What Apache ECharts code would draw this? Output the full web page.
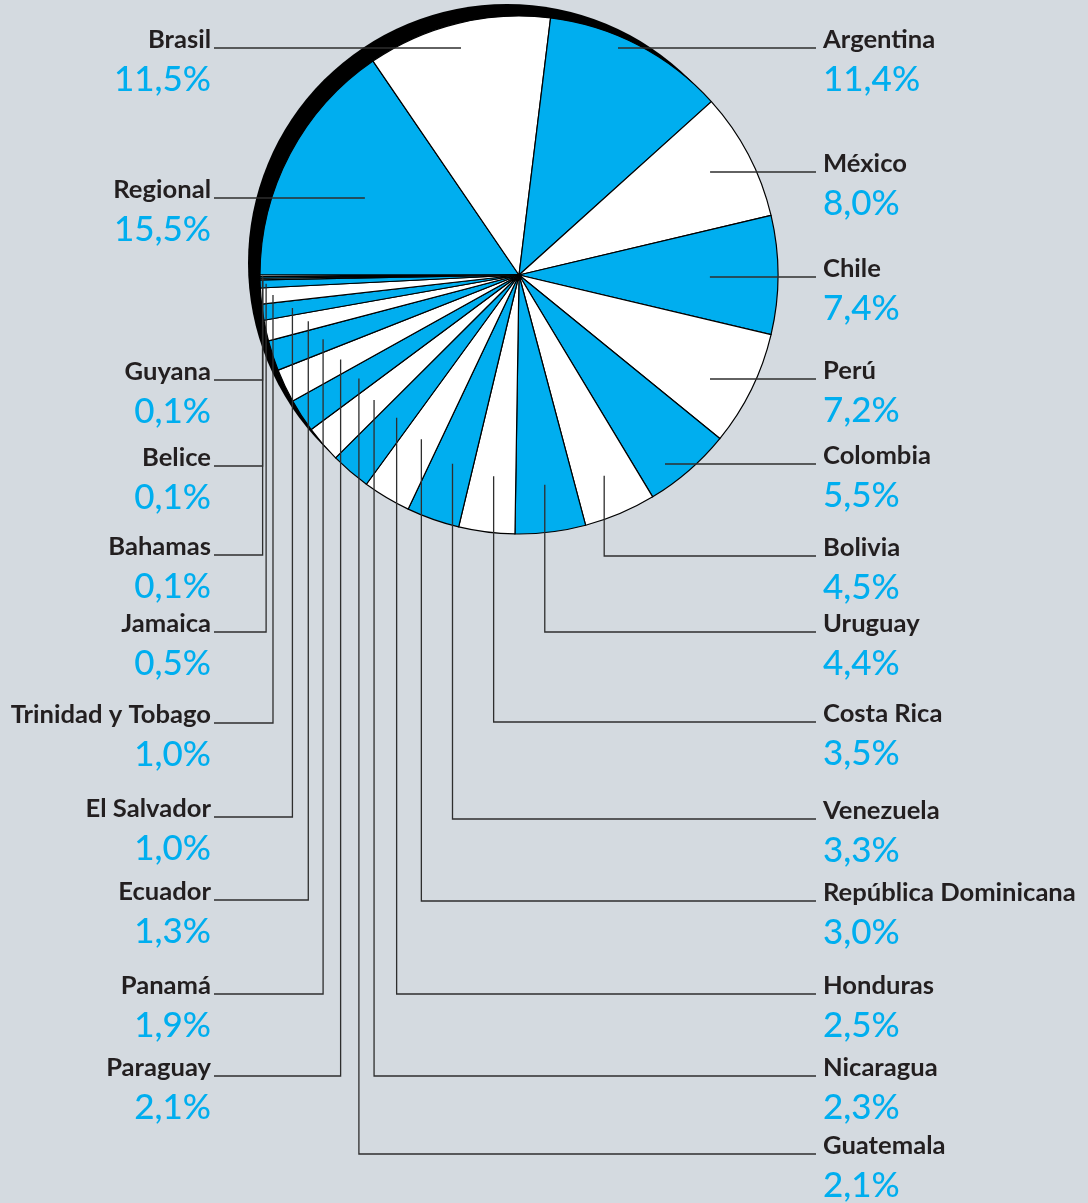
<!DOCTYPE html>
<html>
<head>
<meta charset="utf-8">
<script src="https://cdn.jsdelivr.net/npm/echarts@6/dist/echarts.min.js"></script>
<style>
  html, body { margin: 0; padding: 0; background: #d4dae0; }
  #chart { width: 1088px; height: 1203px; }
</style>
</head>
<body>
<div id="chart"></div>
<script>
// Shares by country, in clockwise order starting at 9 o'clock
const countries = [
  'Regional', 'Brasil', 'Argentina', 'México', 'Chile', 'Perú', 'Colombia',
  'Bolivia', 'Uruguay', 'Costa Rica', 'Venezuela', 'República Dominicana',
  'Honduras', 'Nicaragua', 'Guatemala', 'Paraguay', 'Panamá', 'Ecuador',
  'El Salvador', 'Trinidad y Tobago', 'Jamaica', 'Bahamas', 'Belice', 'Guyana'
];
const shares = [
  15.5, 11.5, 11.4, 8.0, 7.4, 7.2, 5.5,
  4.5, 4.4, 3.5, 3.3, 3.0,
  2.5, 2.3, 2.1, 2.1, 1.9, 1.3,
  1.0, 1.0, 0.5, 0.1, 0.1, 0.1
];

// ---- layout ----
const CX = 519, CY = 275, R = 259;
const SHADOW_DX = -12, SHADOW_DY = -12;
const BLUE = '#00aeef', WHITE = '#ffffff', INK = '#231f20', LINE = '#2e2e2e';

// which side each label sits on
const labelSide = [
  'L', 'L', 'R', 'R', 'R', 'R', 'R',
  'R', 'R', 'R', 'R', 'R',
  'R', 'R', 'R', 'L', 'L', 'L',
  'L', 'L', 'L', 'L', 'L', 'L'
];
// y of each label's baseline / horizontal leader
const leaderY = [
  198, 48, 48, 172, 277, 379, 464,
  556, 632, 722, 819, 901,
  994, 1076, 1154, 1076, 994, 900,
  817, 723, 632, 555, 466, 380
];
// 'h' = straight horizontal leader, 'v' = horizontal then up into the slice
const leaderKind = [
  'h', 'h', 'h', 'h', 'h', 'h', 'h',
  'v', 'v', 'v', 'v', 'v',
  'v', 'v', 'v', 'v', 'v', 'v',
  'v', 'v', 'v', 'v', 'v', 'v'
];
// where the leader ends, as a fraction of the radius along the slice's mid-angle
const anchorR = [
  0.673, 0.949, 0.828, 0.833, 0.737, 0.822, 0.860,
  0.842, 0.816, 0.783, 0.773, 0.738,
  0.726, 0.739, 0.736, 0.762, 0.796, 0.833,
  0.884, 0.953, 0.977, 0.99, 0.99, 0.99
];

const total = shares.reduce((a, b) => a + b, 0);
const START_COMPASS = 270; // 9 o'clock, measured clockwise from 12

function midAngle(i) {
  let cum = 0;
  for (let k = 0; k < i; k++) cum += shares[k];
  return (START_COMPASS + (cum + shares[i] / 2) / total * 360) * Math.PI / 180;
}

function pctText(v) {
  return v.toFixed(1).replace('.', ',') + '%';
}

const chart = echarts.init(document.getElementById('chart'), null, { renderer: 'canvas' });

const nameStyle = { fontFamily: 'Lato', fontWeight: 'bold', fontSize: 25.6, color: INK, lineHeight: 40 };
const pctStyle = { fontFamily: 'Lato', fontWeight: 500, fontSize: 35, color: BLUE, lineHeight: 40 };

const pieBase = {
  type: 'pie',
  center: [CX, CY],
  radius: [0, R],
  startAngle: 180,
  clockwise: true,
  avoidLabelOverlap: false,
  minShowLabelAngle: 0,
  silent: true
};

chart.setOption({
  backgroundColor: '#d4dae0',
  animation: false,
  series: [
    {
      // dark rim behind the disc
      type: 'pie',
      silent: true,
      z: 1,
      center: [CX + SHADOW_DX, CY + SHADOW_DY],
      radius: [0, R],
      label: { show: false },
      labelLine: { show: false },
      itemStyle: { color: '#000000', borderWidth: 0 },
      data: [{ name: 'rim', value: total }]
    },
    Object.assign({}, pieBase, {
      // the coloured slices
      z: 2,
      data: countries.map((c, i) => ({
        name: c,
        value: shares[i],
        itemStyle: { color: i % 2 === 0 ? BLUE : WHITE }
      })),
      itemStyle: { borderColor: '#000000', borderWidth: 1.2 },
      label: { show: false },
      labelLine: { show: false }
    }),
    Object.assign({}, pieBase, {
      // same slices, invisible, carrying labels and leaders above the disc
      z: 3,
      data: countries.map((c, i) => ({ name: c, value: shares[i] })),
      itemStyle: { color: 'rgba(0,0,0,0)', borderWidth: 0 },
      label: {
        show: true,
        position: 'outside',
        formatter: (p) => {
          const s = labelSide[p.dataIndex] === 'L' ? 'l' : 'r';
          return '{n' + s + '|' + p.name + '}\n{p' + s + '|' + pctText(p.value) + '}';
        },
        rich: {
          nl: Object.assign({ align: 'right' }, nameStyle),
          pl: Object.assign({ align: 'right' }, pctStyle),
          nr: Object.assign({ align: 'left' }, nameStyle),
          pr: Object.assign({ align: 'left' }, pctStyle)
        }
      },
      labelLine: {
        show: true,
        smooth: false,
        lineStyle: { color: LINE, width: 1.3 }
      },
      labelLayout: function (p) {
        const i = p.dataIndex;
        const left = labelSide[i] === 'L';
        const ly = leaderY[i];
        const th = midAngle(i);
        const r = anchorR[i] * R;
        const ax = CX + r * Math.sin(th);
        const ay = CY - r * Math.cos(th);
        const x0 = left ? 214 : 816;
        const pts = leaderKind[i] === 'h'
          ? [[x0, ly], [(x0 + ax) / 2, ly], [ax, ly]]
          : [[x0, ly], [ax, ly], [ax, ay]];
        return {
          x: left ? 211 : 823,
          y: ly - 28,
          align: left ? 'right' : 'left',
          verticalAlign: 'top',
          labelLinePoints: pts
        };
      }
    })
  ]
});
</script>
</body>
</html>
